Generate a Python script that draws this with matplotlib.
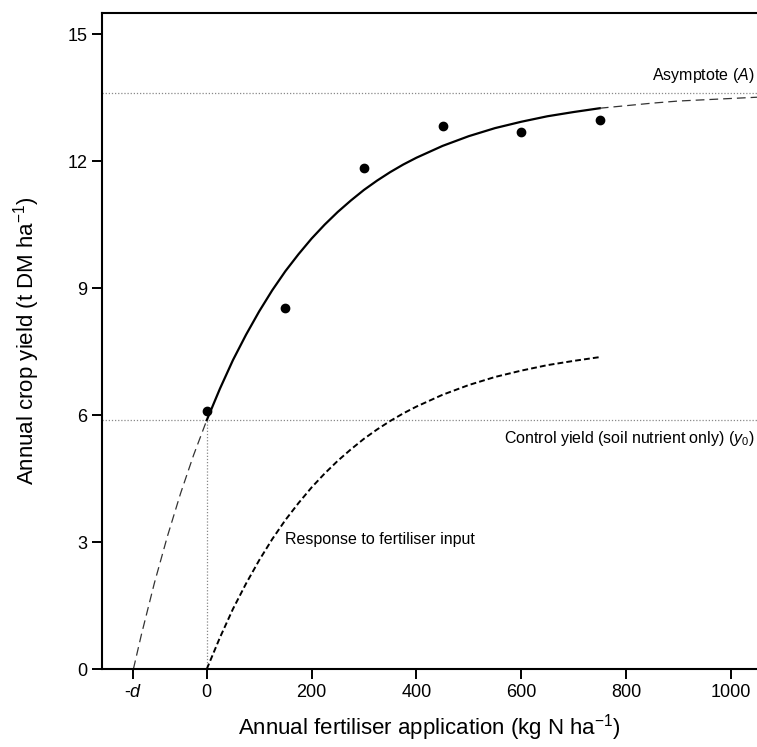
import matplotlib.pyplot as plt

plt.rcParams['font.family'] = ['Liberation Sans', 'DejaVu Sans']
plt.rcParams['mathtext.fontset'] = 'custom'
plt.rcParams['mathtext.rm'] = 'Liberation Sans'
plt.rcParams['mathtext.it'] = 'Liberation Sans:italic'

# observed yields
obs_x = [0, 150, 300, 450, 600, 750]
obs_y = [6.09, 8.52, 11.84, 12.83, 12.68, 12.97]

# fitted response curve
fit_x = [-140, -125, -100, -75, -50, -25, 0, 25, 50, 75, 100, 125, 150, 175, 200,
         225, 250, 275, 300, 325, 350, 375, 400, 450, 500, 550, 600, 650, 700, 750,
         800, 850, 900, 950, 1000, 1050]
fit_y = [0.0, 0.80, 2.03, 3.14, 4.15, 5.06, 5.88, 6.62, 7.30, 7.90, 8.45, 8.95, 9.40, 9.80, 10.17,
         10.50, 10.80, 11.07, 11.32, 11.54, 11.74, 11.92, 12.08, 12.36, 12.59, 12.78, 12.93, 13.06, 13.16, 13.25,
         13.31, 13.37, 13.42, 13.45, 13.48, 13.51]

# yield gained from fertiliser only
resp_x = [0, 25, 50, 75, 100, 125, 150, 175, 200, 225, 250, 275, 300,
          325, 350, 375, 400, 450, 500, 550, 600, 650, 700, 750]
resp_y = [0.0, 0.74, 1.42, 2.02, 2.57, 3.07, 3.52, 3.92, 4.29, 4.62, 4.92, 5.19, 5.44,
          5.66, 5.86, 6.04, 6.20, 6.48, 6.71, 6.90, 7.05, 7.18, 7.28, 7.37]

asymptote = 13.62
control = 5.88
d_value = -140

xticks = [d_value, 0, 200, 400, 600, 800, 1000]
xticklabels = [r'-$\mathit{d}$', '0', '200', '400', '600', '800', '1000']
yticks = [0, 3, 6, 9, 12, 15]

fig = plt.figure(figsize=(7.57, 7.47), dpi=100)
ax = fig.add_axes([0.1347, 0.1044, 0.8653, 0.8782])

# reference lines
ax.axhline(asymptote, color='#888888', lw=0.9, ls=(0, (1, 1.5)))
ax.axhline(control, color='#888888', lw=0.9, ls=(0, (1, 1.5)))
ax.plot([0, 0], [0, control], color='#888888', lw=0.9, ls=(0, (1, 1.5)))

# fitted curve: solid inside the data range, dashed outside
solid = [i for i, x in enumerate(fit_x) if 0 <= x <= 750]
left = [i for i, x in enumerate(fit_x) if x <= 0]
right = [i for i, x in enumerate(fit_x) if x >= 750]
ax.plot([fit_x[i] for i in solid], [fit_y[i] for i in solid], color='black', lw=1.6)
ax.plot([fit_x[i] for i in left], [fit_y[i] for i in left], color='#333333', lw=0.9, ls=(0, (7, 4)))
ax.plot([fit_x[i] for i in right], [fit_y[i] for i in right], color='#333333', lw=0.9, ls=(0, (7, 4)))

ax.plot(resp_x, resp_y, color='black', lw=1.4, ls=(0, (3, 1.6)))

ax.plot(obs_x, obs_y, 'o', color='black', ms=6)

ax.text(1045, asymptote + 0.18, r'Asymptote ($\mathit{A}$)', ha='right', va='bottom', fontsize=11.5)
ax.text(1045, control - 0.22, r'Control yield (soil nutrient only) ($\mathit{y}_0$)',
        ha='right', va='top', fontsize=11.5)
ax.text(150, 3.05, 'Response to fertiliser input', ha='left', va='center', fontsize=11.5)

ax.set_xlim(-200, 1050)
ax.set_ylim(0, 15.5)
ax.set_xticks(xticks)
ax.set_xticklabels(xticklabels)
ax.set_yticks(yticks)
ax.tick_params(labelsize=13, length=7, width=1.4, direction='out')
for side in ['left', 'bottom', 'top']:
    ax.spines[side].set_linewidth(1.5)
ax.spines['right'].set_visible(False)

ax.set_xlabel(r'Annual fertiliser application (kg N ha$^{-1}$)', fontsize=16, labelpad=8)
ax.set_ylabel(r'Annual crop yield (t DM ha$^{-1}$)', fontsize=16, labelpad=18)

fig.savefig('out.png', dpi=100)
